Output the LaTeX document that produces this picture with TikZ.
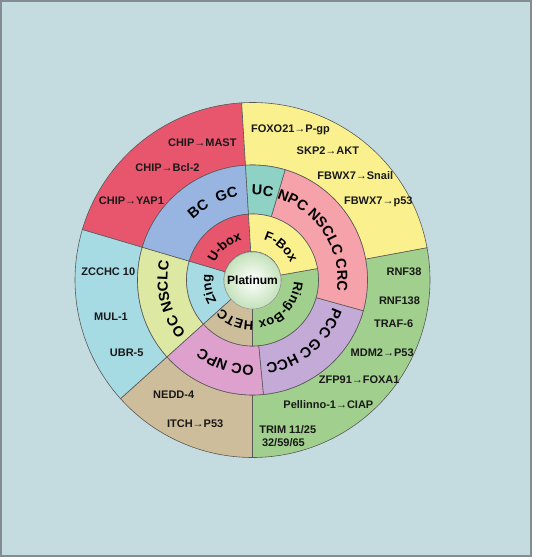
\documentclass[tikz,border=0pt]{standalone}
\usepackage{fontspec}
\setmainfont{Liberation Sans}
\usetikzlibrary{decorations.text}
\definecolor{bg}{RGB}{196,220,224}
\definecolor{frm}{RGB}{130,140,145}
\definecolor{cRed}{RGB}{232,86,110}
\definecolor{cYellow}{RGB}{250,241,142}
\definecolor{cGreen}{RGB}{161,207,141}
\definecolor{cTan}{RGB}{206,189,154}
\definecolor{cLBlue}{RGB}{166,219,228}
\definecolor{cBlue}{RGB}{152,180,225}
\definecolor{cTeal}{RGB}{141,210,196}
\definecolor{cPink}{RGB}{245,162,170}
\definecolor{cPurple}{RGB}{196,170,215}
\definecolor{cMag}{RGB}{222,161,205}
\definecolor{cLGreen}{RGB}{221,232,162}
\definecolor{platg}{RGB}{196,226,186}
\newcommand\annsec[5]{\filldraw[ol, fill=#1] (#2:#4) arc[start angle=#2, end angle=#3, radius=#4] -- (#3:#5) arc[start angle=#3, end angle=#2, radius=#5] -- cycle;}
\newcommand\arctext[5]{\path[decorate, decoration={text along path, text align=center, text={|\bfseries\fontsize{#4}{#4}\selectfont|#5}}] (#2:#1) arc[start angle=#2, end angle=#3, radius=#1];}
\begin{document}
\begin{tikzpicture}[x=1pt,y=1pt,
  ol/.style={draw=black!65, line width=0.6pt},
  lab/.style={font=\bfseries\fontsize{11}{13}\selectfont, inner sep=0pt, anchor=base, text=black!90}]
\useasboundingbox (-252.5,-279) rectangle (280.5,280);
\fill[white] (-252.5,-279) rectangle (280.5,280);
\draw[fill=bg, draw=frm, line width=1.5pt] (-251.5,-276) rectangle (278.5,279);
% outer ring
\annsec{cRed}{93.5}{163.5}{115}{177.5}
\annsec{cLBlue}{163.5}{222}{115}{177.5}
\annsec{cTan}{222}{270}{115}{177.5}
\annsec{cGreen}{-90}{10.5}{115}{177.5}
\annsec{cYellow}{10.5}{93.5}{115}{177.5}
% middle ring
\annsec{cBlue}{93.5}{163.5}{66}{115}
\annsec{cLGreen}{163.5}{222}{66}{115}
\annsec{cMag}{222}{275.5}{66}{115}
\annsec{cPurple}{-84.5}{-15.5}{66}{115}
\annsec{cPink}{-15.5}{73.5}{66}{115}
\annsec{cTeal}{73.5}{93.5}{66}{115}
% inner ring
\annsec{cRed}{93.5}{163.5}{28.5}{66}
\annsec{cLBlue}{163.5}{222}{28.5}{66}
\annsec{cTan}{222}{270}{28.5}{66}
\annsec{cGreen}{-90}{10}{28.5}{66}
\annsec{cYellow}{10}{93.5}{28.5}{66}
% centre
\shade[inner color=white, outer color=platg] (0,-0.5) circle (28.5);
\draw[black!40, line width=0.5pt] (0,-0.5) circle (28.5);
\node[font=\bfseries\fontsize{12}{14}\selectfont, inner sep=0pt] (plat) at (0,-0.5) {Platinum};
% middle ring texts
\arctext{85}{113.5}{53.5}{14.5}{UC}
\arctext{85}{157}{77}{14.5}{BC{\kern5pt} GC}
\arctext{85}{93}{-27}{14.5}{NPC NSCLC CRC}
\arctext{85}{0}{-100}{14.5}{PCC GC HCC}
\arctext{85}{292}{212}{14.5}{OC NPC}
\arctext{85}{243}{143}{14.5}{OC NSCLC}
% inner ring texts
\arctext{41.5}{180}{80}{13}{U-box}
\arctext{41.5}{99}{-1}{13}{F-Box}
\arctext{41.5}{8}{-92}{13}{Ring-Box}
\arctext{41.5}{297}{197}{13}{HETC}
\arctext{41.5}{242}{142}{13}{Zing}
% outer ring labels
\node[lab] (t1) at (38,147.7) {FOXO21→P-gp};
\node[lab] (t2) at (-50.2,133.3) {CHIP→MAST};
\node[lab] (t3) at (75.4,125.3) {SKP2→AKT};
\node[lab] (t4) at (-85,108.7) {CHIP→Bcl-2};
\node[lab] (t5) at (102.8,100.3) {FBWX7→Snail};
\node[lab] (t6) at (-121.1,75.3) {CHIP→YAP1};
\node[lab] (t7) at (125.8,75) {FBWX7→p53};
\node[lab] (t8) at (-144.2,4.3) {ZCCHC 10};
\node[lab] (t9) at (151.5,4.3) {RNF38};
\node[lab] (t10) at (147,-24.7) {RNF138};
\node[lab] (t11) at (-141.5,-40.7) {MUL-1};
\node[lab] (t12) at (141.1,-47.3) {TRAF-6};
\node[lab] (t13) at (129.7,-76.7) {MDM2→P53};
\node[lab] (t14) at (-125.8,-76.7) {UBR-5};
\node[lab] (t15) at (106.7,-103.3) {ZFP91→FOXA1};
\node[lab] (t16) at (-78.8,-118.3) {NEDD-4};
\node[lab] (t17) at (75.9,-128.3) {Pellinno-1→CIAP};
\node[lab] (t18) at (-57.3,-147.3) {ITCH→P53};
\node[lab, anchor=base west] (t19) at (6.6,-153) {TRIM 11/25};
\node[lab, anchor=base west] (t20) at (9.3,-166.7) {32/59/65};
\end{tikzpicture}
\end{document}
